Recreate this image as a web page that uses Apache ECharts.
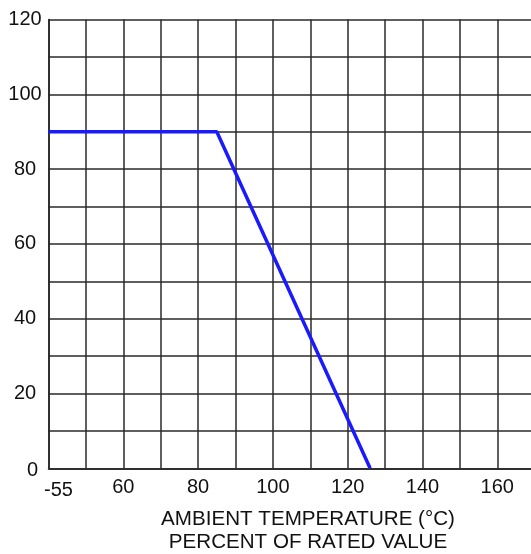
<!DOCTYPE html>
<html>
<head>
<meta charset="utf-8">
<script src="https://cdn.jsdelivr.net/npm/echarts@6/dist/echarts.min.js"></script>
<style>
html,body{margin:0;padding:0;background:#fff;}
#c{width:531px;height:554px;}
</style>
</head>
<body>
<div id="c"></div>
<script>
// Data
var temperature = [40, 85, 126];        // x positions (axis value space; 40 is shown as -55)
var ratedPercent = [90, 90, 0];
var xTickValues = [40, 60, 80, 100, 120, 140, 160];
var xTickLabels = ['-55', '60', '80', '100', '120', '140', '160'];
var yTickValues = [0, 20, 40, 60, 80, 100, 120];
var axisTitle1 = 'AMBIENT TEMPERATURE (\u00B0C)';
var axisTitle2 = 'PERCENT OF RATED VALUE';

var FONT = '"Liberation Sans", Arial, sans-serif';
var chart = echarts.init(document.getElementById('c'), null, {renderer: 'canvas'});
var seriesData = temperature.map(function (t, i) { return [t, ratedPercent[i]]; });

chart.setOption({
  animation: false,
  backgroundColor: '#fff',
  grid: {left: 48.5, top: 19.5, width: 486.2, height: 448.8, containLabel: false, outerBoundsMode: 'none'},
  xAxis: {
    type: 'value', min: 40, max: 170, interval: 10,
    axisLine: {show: true, lineStyle: {color: '#222', width: 1.5}},
    axisTick: {show: false},
    splitLine: {show: true, lineStyle: {color: '#2a2a2a', width: 1.5}},
    axisLabel: {
      show: true, margin: 9, color: '#111', fontFamily: FONT, fontSize: 20,
      showMaxLabel: true, showMinLabel: true, hideOverlap: false,
      formatter: function (v) {
        var i = xTickValues.indexOf(v);
        if (i < 0) return '';
        if (i === 0) return '{first|' + xTickLabels[i] + '}';
        return xTickLabels[i];
      },
      rich: {first: {fontFamily: FONT, fontSize: 20, color: '#111', padding: [3, 0, 0, 20]}}
    }
  },
  yAxis: {
    type: 'value', min: 0, max: 120, interval: 10,
    axisLine: {show: true, lineStyle: {color: '#222', width: 1.5}},
    axisTick: {show: false},
    splitLine: {show: true, lineStyle: {color: '#2a2a2a', width: 1.5}},
    axisLabel: {
      show: true, margin: 23.5, align: 'center', color: '#111', fontFamily: FONT, fontSize: 20,
      formatter: function (v) {
        if (yTickValues.indexOf(v) < 0) return '';
        if (v === 0) return '{zero|0}';
        return String(v);
      },
      rich: {zero: {fontFamily: FONT, fontSize: 20, color: '#111', padding: [4, 0, 0, 15]}}
    }
  },
  series: [{
    type: 'line',
    data: seriesData,
    symbol: 'none',
    lineStyle: {color: '#1a1aff', width: 3.5},
    z: 5
  }],
  graphic: [
    {type: 'text', x: 308, y: 519,
      style: {text: axisTitle1, fill: '#111', font: '20.6px ' + FONT, textAlign: 'center', textVerticalAlign: 'middle'}},
    {type: 'text', x: 308, y: 542,
      style: {text: axisTitle2, fill: '#111', font: '20.6px ' + FONT, textAlign: 'center', textVerticalAlign: 'middle'}}
  ]
});
</script>
</body>
</html>
